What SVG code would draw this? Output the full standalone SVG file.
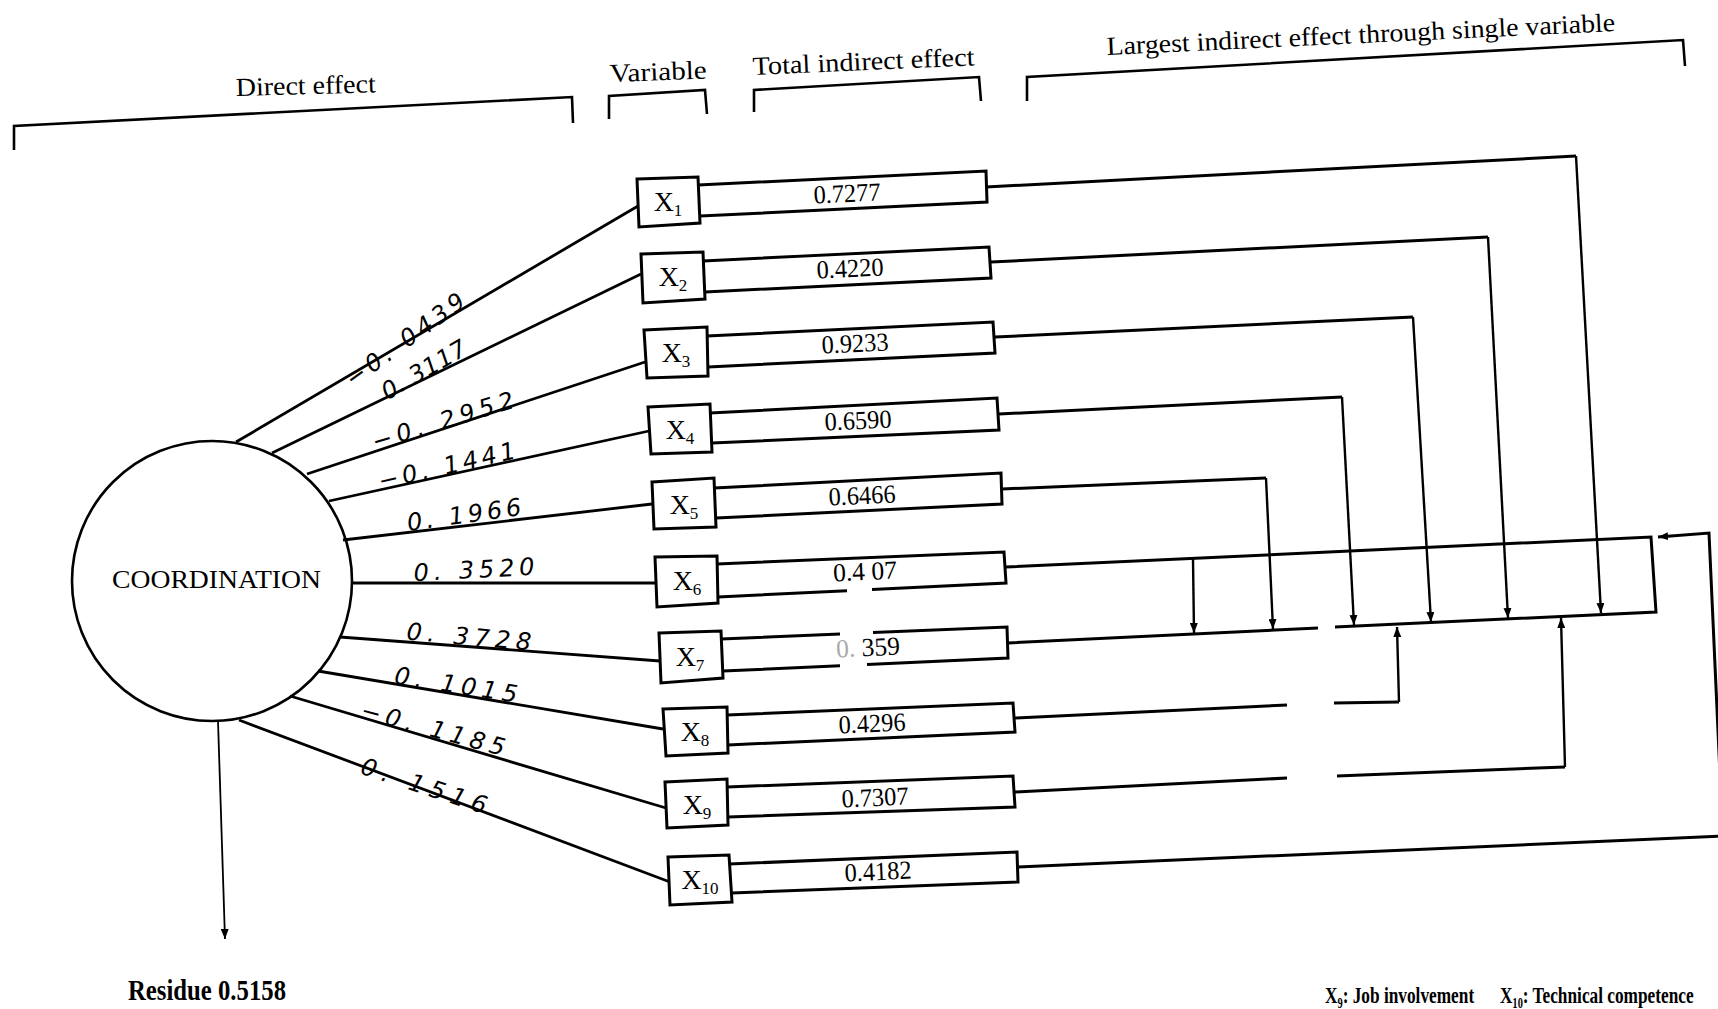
<svg xmlns="http://www.w3.org/2000/svg" width="1718" height="1009" viewBox="0 0 1718 1009">
<style>
.ln{fill:none;stroke:#000;stroke-width:3;stroke-linejoin:miter}
.br{fill:none;stroke:#000;stroke-width:2.6}
.cn{fill:none;stroke:#000;stroke-width:2.8}
.vt{fill:none;stroke:#000;stroke-width:2.4}
.box{fill:#fff;stroke:#000;stroke-width:3}
.hdr{font-family:"Liberation Serif","Times New Roman",serif;font-size:26px;fill:#000}
.num{font-family:"Liberation Serif","Times New Roman",serif;font-size:26px;fill:#000;text-anchor:middle}
.var{font-family:"Liberation Serif","Times New Roman",serif;font-size:28px;fill:#000;text-anchor:middle}
.sub{font-size:17px}
.hw{font-family:"DejaVu Sans",sans-serif;font-style:italic;font-size:24px;fill:#000;text-anchor:middle}
.res{font-family:"Liberation Serif","Times New Roman",serif;font-weight:bold;font-size:29px;fill:#000}
.leg{font-family:"Liberation Serif","DejaVu Serif",serif;font-weight:bold;font-size:24px;fill:#000}
</style>
<defs>
<marker id="ah" viewBox="0 0 10 8" refX="10" refY="4" markerWidth="10" markerHeight="8" markerUnits="userSpaceOnUse" orient="auto"><path d="M0,0 L10,4 L0,8 z" fill="#000"/></marker>
</defs>
<rect x="0" y="0" width="1718" height="1009" fill="#fff"/>

<g id="headers">
<text class="hdr" x="236" y="96" textLength="140" lengthAdjust="spacingAndGlyphs" transform="rotate(-1.5 236 96)">Direct effect</text>
<polyline class="br" points="14,150 14,126 572,97 573,123"/>
<text class="hdr" x="610" y="82" textLength="97" lengthAdjust="spacingAndGlyphs" transform="rotate(-2 610 82)">Variable</text>
<polyline class="br" points="609,119 609,96 705,90 707,114"/>
<text class="hdr" x="753" y="75" textLength="222" lengthAdjust="spacingAndGlyphs" transform="rotate(-2.5 753 75)">Total indirect effect</text>
<polyline class="br" points="754,112 754,90 979,77 981,101"/>
<text class="hdr" x="1107" y="55" textLength="509" lengthAdjust="spacingAndGlyphs" transform="rotate(-2.7 1107 55)">Largest indirect effect through single variable</text>
<polyline class="br" points="1027,101 1027,77 1683,40 1685,66"/>
</g>

<g id="coordination">
<circle cx="212" cy="581" r="140" fill="#fff" stroke="#000" stroke-width="2.6"/>
<text class="hdr" x="112" y="588" textLength="209" lengthAdjust="spacingAndGlyphs">COORDINATION</text>
</g>

<g id="residue">
<line x1="218" y1="721" x2="225" y2="939" stroke="#000" stroke-width="1.8" marker-end="url(#ah)"/>
<text class="res" x="128" y="1000" textLength="158" lengthAdjust="spacingAndGlyphs">Residue 0.5158</text>
</g>

<g id="connectors">
<line class="cn" x1="236" y1="442" x2="638" y2="206"/>
<line class="cn" x1="272" y1="453" x2="641" y2="274"/>
<line class="cn" x1="307" y1="474" x2="645" y2="362"/>
<line class="cn" x1="329" y1="501" x2="649" y2="431"/>
<line class="cn" x1="343" y1="540" x2="652" y2="504"/>
<line class="cn" x1="351" y1="583" x2="655" y2="583"/>
<line class="cn" x1="340" y1="637" x2="660" y2="661"/>
<line class="cn" x1="318" y1="671" x2="663" y2="729"/>
<line class="cn" x1="290" y1="696" x2="666" y2="808"/>
<line class="cn" x1="239" y1="720" x2="670" y2="882"/>

<polyline class="ln" points="986,187 1576,156"/>
<polyline class="vt" points="1576,156 1601,613" marker-end="url(#ah)"/>
<polyline class="ln" points="991,262 1488,237"/>
<polyline class="vt" points="1488,237 1508,618" marker-end="url(#ah)"/>
<polyline class="ln" points="995,337 1413,317"/>
<polyline class="vt" points="1413,317 1431,622" marker-end="url(#ah)"/>
<polyline class="ln" points="999,414 1342,397"/>
<polyline class="vt" points="1342,397 1354,625" marker-end="url(#ah)"/>
<polyline class="ln" points="1002,489 1266,478"/>
<polyline class="vt" points="1266,478 1273,629" marker-end="url(#ah)"/>
<path class="ln" d="M1006,567 L1651,537 L1656,612 L1335,627 M1318,628 L1008,643"/>
<line class="vt" x1="1193" y1="559" x2="1194" y2="633" marker-end="url(#ah)"/>
<path class="ln" d="M1015,718 L1287,705 M1334,703 L1399,702"/>
<polyline class="vt" points="1399,702 1397,627" marker-end="url(#ah)"/>
<path class="ln" d="M1015,792 L1287,778 M1337,776 L1565,767"/>
<polyline class="vt" points="1565,767 1561,618" marker-end="url(#ah)"/>
<line class="ln" x1="1018" y1="867" x2="1722" y2="836"/>
<polyline class="ln" points="1720,775 1709,533 1658,537" marker-end="url(#ah)"/>
</g>

<g id="labels">
<text class="hw" textLength="141" lengthAdjust="spacing" transform="translate(405 340) rotate(-36)" y="8">−0. 0439</text>
<text class="hw" textLength="94" lengthAdjust="spacing" transform="translate(424 370) rotate(-30)" y="8">0. 3117</text>
<text class="hw" textLength="147" lengthAdjust="spacing" transform="translate(443 421) rotate(-17)" y="8">−0. 2952</text>
<text class="hw" textLength="140" lengthAdjust="spacing" transform="translate(447 466) rotate(-13)" y="8">−0. 1441</text>
<text class="hw" textLength="115" lengthAdjust="spacing" transform="translate(464 515) rotate(-8)" y="8">0. 1966</text>
<text class="hw" textLength="121" lengthAdjust="spacing" transform="translate(474 570) rotate(-3)" y="8">0. 3520</text>
<text class="hw" textLength="125" lengthAdjust="spacing" transform="translate(469 637) rotate(5)" y="8">0. 3728</text>
<text class="hw" textLength="124" lengthAdjust="spacing" transform="translate(456 685) rotate(9)" y="8">0. 1015</text>
<text class="hw" textLength="148" lengthAdjust="spacing" transform="translate(433 729) rotate(15)" y="8">−0. 1185</text>
<text class="hw" textLength="131" lengthAdjust="spacing" transform="translate(424 786) rotate(18)" y="8">0. 1516</text>
</g>

<g id="x1"><polygon class="box" points="637,179 698,177 700,223 639,227"/><polyline class="ln" points="698,185 986,171 987,202 700,216"/><text class="var" x="668" y="211">X<tspan class="sub" dy="5">1</tspan></text><text class="num" x="847" y="202" textLength="67" lengthAdjust="spacingAndGlyphs" transform="rotate(-2.6 847 193)">0.7277</text></g>
<g id="x2"><polygon class="box" points="641,254 703,252 705,299 643,303"/><polyline class="ln" points="703,261 989,247 991,278 705,292"/><text class="var" x="673" y="286">X<tspan class="sub" dy="5">2</tspan></text><text class="num" x="850" y="277" textLength="67" lengthAdjust="spacingAndGlyphs" transform="rotate(-2.6 850 268)">0.4220</text></g>
<g id="x3"><polygon class="box" points="644,330 707,327 708,376 647,378"/><polyline class="ln" points="707,336 993,322 995,353 708,367"/><text class="var" x="676" y="362">X<tspan class="sub" dy="5">3</tspan></text><text class="num" x="855" y="352" textLength="67" lengthAdjust="spacingAndGlyphs" transform="rotate(-2.6 855 343)">0.9233</text></g>
<g id="x4"><polygon class="box" points="648,407 710,404 712,452 651,454"/><polyline class="ln" points="710,413 997,398 999,430 712,443"/><text class="var" x="680" y="439">X<tspan class="sub" dy="5">4</tspan></text><text class="num" x="858" y="429" textLength="67" lengthAdjust="spacingAndGlyphs" transform="rotate(-2.6 858 420)">0.6590</text></g>
<g id="x5"><polygon class="box" points="652,482 714,478 716,527 654,529"/><polyline class="ln" points="714,488 1001,473 1002,504 716,518"/><text class="var" x="684" y="514">X<tspan class="sub" dy="5">5</tspan></text><text class="num" x="862" y="504" textLength="67" lengthAdjust="spacingAndGlyphs" transform="rotate(-2.6 862 495)">0.6466</text></g>
<g id="x6"><polygon class="box" points="655,557 717,556 718,603 657,607"/><path class="ln" d="M717,564 L1004,552 L1006,583 L872,589.5 M847,590.7 L718,597"/><text class="var" x="687" y="590">X<tspan class="sub" dy="5">6</tspan></text><text class="num" x="865" y="580" textLength="64" lengthAdjust="spacingAndGlyphs" transform="rotate(-2.6 865 571)">0.4 07</text></g>
<g id="x7"><polygon class="box" points="659,633 721,631 723,678 661,683"/><path class="ln" d="M721,639 L840,634 M873,632.6 L1007,627 L1008,658 L867,664.4 M840,665.7 L723,671"/><text class="var" x="690" y="666">X<tspan class="sub" dy="5">7</tspan></text><text class="num" x="868" y="656" textLength="64" lengthAdjust="spacingAndGlyphs" transform="rotate(-2.6 868 647)"><tspan fill="#aaa">0. </tspan>359</text></g>
<g id="x8"><polygon class="box" points="663,709 727,707 728,753 666,756"/><polyline class="ln" points="727,715 1013,703 1015,732 728,745"/><text class="var" x="695" y="741">X<tspan class="sub" dy="5">8</tspan></text><text class="num" x="872" y="732" textLength="67" lengthAdjust="spacingAndGlyphs" transform="rotate(-2.6 872 723)">0.4296</text></g>
<g id="x9"><polygon class="box" points="665,782 727,779 728,825 667,828"/><polyline class="ln" points="727,787 1013,776 1015,807 728,817"/><text class="var" x="697" y="814">X<tspan class="sub" dy="5">9</tspan></text><text class="num" x="875" y="806" textLength="67" lengthAdjust="spacingAndGlyphs" transform="rotate(-2.6 875 797)">0.7307</text></g>
<g id="x10"><polygon class="box" points="668,857 729,855 732,902 670,905"/><polyline class="ln" points="729,864 1017,852 1018,882 732,893"/><text class="var" x="700" y="889">X<tspan class="sub" dy="5">10</tspan></text><text class="num" x="878" y="880" textLength="67" lengthAdjust="spacingAndGlyphs" transform="rotate(-2.6 878 871)">0.4182</text></g>

<g id="legend">
<text class="leg" transform="translate(1325 1003) scale(0.72 1)">X₉: Job involvement</text>
<text class="leg" transform="translate(1500 1003) scale(0.72 1)">X₁₀: Technical competence</text>
</g>
</svg>
